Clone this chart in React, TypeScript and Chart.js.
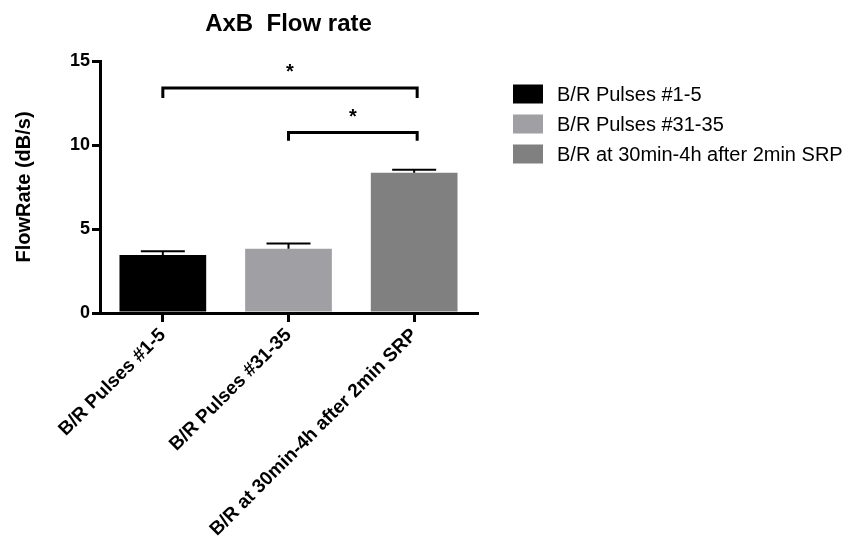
import React, { useEffect, useRef } from "react";
import { Chart, registerables } from "chart.js";

Chart.register(...registerables);

const categories = ["B/R Pulses #1-5", "B/R Pulses #31-35", "B/R at 30min-4h after 2min SRP"];
const means = [3.45, 3.83, 8.35];
const upperErrors = [0.22, 0.3, 0.18];
const barColors = ["#000000", "#a0a0a4", "#808080"];
const yTickValues = [0, 5, 10, 15];
const bracketFrom = [0, 1];
const bracketTo = [2, 2];
const bracketY = [13.4, 10.75];
const bracketDrop = [0.6, 0.5];
const bracketLabels = ["*", "*"];
const titleText = "AxB  Flow rate";
const yAxisTitle = "FlowRate (dB/s)";

const FONT = "'Liberation Sans', Arial, Helvetica, sans-serif";

const overlayPlugin = {
  id: "overlay",
  afterDatasetsDraw(chart: any) {
    const ctx = chart.ctx as CanvasRenderingContext2D;
    const xs = chart.scales.x;
    const ys = chart.scales.y;
    const area = chart.chartArea;
    ctx.save();
    ctx.strokeStyle = "#000";
    ctx.fillStyle = "#000";
    ctx.lineCap = "butt";

    // error bars (upper only)
    ctx.lineWidth = 2;
    means.forEach((m, i) => {
      const x = xs.getPixelForValue(i);
      const yTop = ys.getPixelForValue(m + upperErrors[i]);
      const yBar = ys.getPixelForValue(m);
      ctx.beginPath();
      ctx.moveTo(x, yBar);
      ctx.lineTo(x, yTop);
      ctx.moveTo(x - 22, yTop);
      ctx.lineTo(x + 22, yTop);
      ctx.stroke();
    });

    // significance brackets
    ctx.lineWidth = 3;
    ctx.lineJoin = "miter";
    bracketFrom.forEach((f, i) => {
      const x1 = xs.getPixelForValue(f);
      const x2 = xs.getPixelForValue(bracketTo[i]) + 3;
      const y = ys.getPixelForValue(bracketY[i]);
      const yl = ys.getPixelForValue(bracketY[i] - bracketDrop[i]);
      ctx.beginPath();
      ctx.moveTo(x1, yl);
      ctx.lineTo(x1, y);
      ctx.lineTo(x2, y);
      ctx.lineTo(x2, yl);
      ctx.stroke();
      ctx.font = `bold 20px ${FONT}`;
      ctx.textAlign = "center";
      ctx.textBaseline = "middle";
      ctx.fillText(bracketLabels[i], (x1 + x2) / 2, y - 15);
    });

    // title
    ctx.font = `bold 24px ${FONT}`;
    ctx.textAlign = "center";
    ctx.textBaseline = "middle";
    ctx.fillText(titleText, (area.left + area.right) / 2, 24);

    // legend
    ctx.font = `20px ${FONT}`;
    ctx.textAlign = "left";
    categories.forEach((c, i) => {
      const cy = 94 + i * 30;
      ctx.fillStyle = barColors[i];
      ctx.fillRect(513, cy - 9.5, 30, 19);
      ctx.fillStyle = "#000";
      ctx.fillText(c, 557, cy + 1);
    });
    ctx.restore();
  },
};

export default function App() {
  const ref = useRef<HTMLCanvasElement | null>(null);
  useEffect(() => {
    if (!ref.current) return;
    const chart = new Chart(ref.current, {
      type: "bar",
      data: {
        labels: categories,
        datasets: [
          {
            data: means,
            backgroundColor: barColors,
            borderWidth: 0,
            categoryPercentage: 1,
            barPercentage: 0.69,
          },
        ],
      },
      options: {
        animation: false,
        responsive: false,
        layout: { padding: { top: 61, right: 375, bottom: 0, left: 0 } },
        plugins: { legend: { display: false }, tooltip: { enabled: false }, title: { display: false } },
        scales: {
          x: {
            offset: true,
            grid: { display: true, offset: false, drawOnChartArea: false, drawTicks: true, tickLength: 9, color: "#000", lineWidth: 3 },
            border: { display: true, color: "#000", width: 3 },
            ticks: {
              color: "#000",
              font: { family: FONT, size: 19, weight: "bold" },
              minRotation: 45,
              maxRotation: 45,
              autoSkip: false,
              padding: 2,
            },
            afterFit: (s: any) => {
              s.height = 229;
            },
          },
          y: {
            min: 0,
            max: 15,
            afterBuildTicks: (s: any) => {
              s.ticks = yTickValues.map((v) => ({ value: v }));
            },
            grid: { display: true, drawOnChartArea: false, drawTicks: true, tickLength: 8, color: "#000", lineWidth: 3 },
            border: { display: true, color: "#000", width: 3 },
            ticks: { color: "#000", font: { family: FONT, size: 18, weight: "bold" }, padding: 2 },
            title: {
              display: true,
              text: yAxisTitle,
              color: "#000",
              font: { family: FONT, size: 20, weight: "bold" },
              padding: { top: 12, bottom: 0 },
            },
            afterFit: (s: any) => {
              s.width = 100;
            },
          },
        },
      },
      plugins: [overlayPlugin],
    } as any);
    return () => chart.destroy();
  }, []);
  return (
    <div style={{ position: "absolute", left: 0, top: 0, width: 852, height: 542, background: "#fff" }}>
      <canvas ref={ref} width={852} height={542} style={{ display: "block" }} />
    </div>
  );
}
